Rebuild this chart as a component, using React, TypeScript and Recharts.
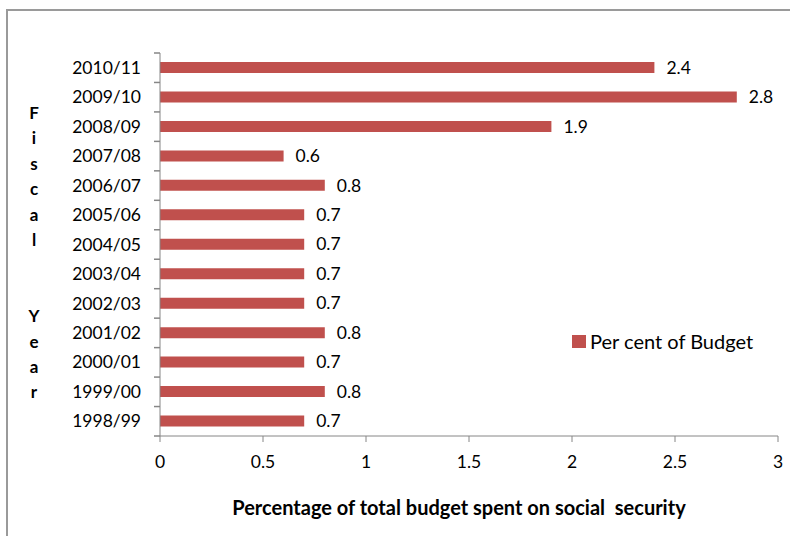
import { BarChart, Bar, XAxis, YAxis, LabelList } from "recharts"

const years = ["2010/11", "2009/10", "2008/09", "2007/08", "2006/07", "2005/06", "2004/05", "2003/04", "2002/03", "2001/02", "2000/01", "1999/00", "1998/99"]
const percentOfBudget = [2.4, 2.8, 1.9, 0.6, 0.8, 0.7, 0.7, 0.7, 0.7, 0.8, 0.7, 0.8, 0.7]
const xTicks = [0, 0.5, 1, 1.5, 2, 2.5, 3]

const data = years.map((year, i) => ({ year, value: percentOfBudget[i] }))

const FONT = "Lato, 'Open Sans', sans-serif"
const AXIS = "#868686"
const BAR = "#C0504D"

const TOP = 53
const BOTTOM = 100
const X_AXIS_H = 30
const HEIGHT = 536
const Y_AXIS_W = 160
const STEP = (HEIGHT - TOP - BOTTOM) / years.length

function YearTick(props: any) {
  const { y, payload, index } = props
  const ax = Y_AXIS_W
  return (
    <g>
      <line x1={ax - 6} x2={ax} y1={y - STEP / 2} y2={y - STEP / 2} stroke={AXIS} strokeWidth={1.5} />
      {index === years.length - 1 && (
        <line x1={ax - 6} x2={ax} y1={y + STEP / 2} y2={y + STEP / 2} stroke={AXIS} strokeWidth={1.5} />
      )}
      <text x={141} y={y} dy="0.35em" textAnchor="end" fill="#000" fontSize={17.5} fontFamily={FONT}>
        {payload.value}
      </text>
    </g>
  )
}

function FiscalYearLabel() {
  const letters = "Fiscal  Year".split("")
  return (
    <text x={34} y={112} textAnchor="middle" fontSize={17} fontWeight="bold" fontFamily={FONT} fill="#000">
      {letters.map((c, i) => (
        <tspan key={i} x={34} y={113 + i * 25.4} dy="0.35em">
          {c === " " ? "\u00a0" : c}
        </tspan>
      ))}
    </text>
  )
}

function XTitle(props: any) {
  const { viewBox } = props
  const cx = viewBox.x + viewBox.width / 2 - 10
  return (
    <text x={cx} y={508} dy="0.35em" textAnchor="middle" fontSize={20} fontWeight="bold" fontFamily={FONT} fill="#000">
      {"Percentage of total budget spent on social\u00a0 security"}
    </text>
  )
}

export default function App() {
  return (
    <div style={{ position: "absolute", left: 0, top: 0, width: 790, height: 536, background: "#fff", fontFamily: FONT }}>
      <div style={{ position: "absolute", left: 6, top: 9, width: 784, height: 527, borderTop: "2px solid #9a9a9a", borderLeft: "2px solid #9a9a9a" }} />
      <BarChart
        width={790}
        height={536}
        data={data}
        layout="vertical"
        margin={{ top: TOP, right: 12, bottom: BOTTOM - X_AXIS_H, left: 0 }}
        barSize={11}
        style={{ position: "absolute", left: 0, top: 0 }}
      >
        <XAxis
          type="number"
          domain={[0, 3]}
          ticks={xTicks}
          interval={0}
          height={X_AXIS_H}
          stroke={AXIS}
          tickSize={6}
          tickMargin={14}
          tick={{ fill: "#000", fontSize: 17.5, fontFamily: FONT }}
          label={<XTitle />}
        />
        <YAxis
          type="category"
          dataKey="year"
          width={Y_AXIS_W}
          stroke={AXIS}
          tickLine={false}
          tick={<YearTick />}
          interval={0}
        />
        <Bar dataKey="value" fill={BAR} isAnimationActive={false}>
          <LabelList dataKey="value" position="right" offset={12} fill="#000" fontSize={17.5} fontFamily={FONT} />
        </Bar>
      </BarChart>
      <svg width={790} height={536} style={{ position: "absolute", left: 0, top: 0, pointerEvents: "none" }}>
        <FiscalYearLabel />
        <rect x={572} y={335} width={14} height={13} fill={BAR} />
        <text x={590} y={341.5} dy="0.35em" fontSize={20} fontFamily={FONT} fill="#000">
          Per cent of Budget
        </text>
      </svg>
    </div>
  )
}
